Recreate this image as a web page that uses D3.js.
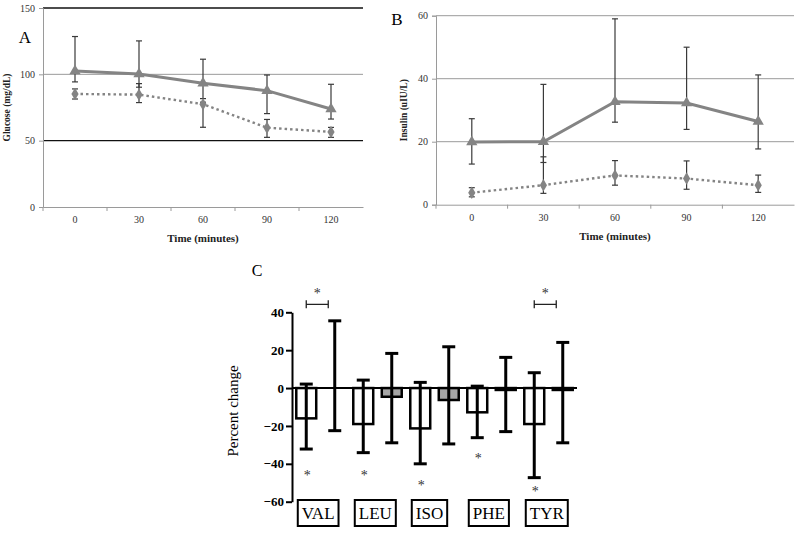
<!DOCTYPE html>
<html>
<head>
<meta charset="utf-8">
<script src="https://cdn.jsdelivr.net/npm/d3@7"></script>
<style>
  body { margin: 0; background: #fff; }
  svg { display: block; font-family: "Liberation Serif", "DejaVu Serif", serif; }
</style>
</head>
<body>
<svg id="chart" width="800" height="536"></svg>
<script>
// time points for panels A and B
const times = [0, 30, 60, 90, 120];

// Panel A: glucose (mg/dL)
const glucoseTri = [102.6, 100.3, 93.3, 87.7, 73.9];
const glucoseTriHi = [128.5, 125.2, 111.4, 99.5, 92.5];
const glucoseTriLo = [94.3, 90.3, 81.7, 70.4, 66.3];
const glucoseDia = [85.2, 84.7, 77.5, 59.8, 56.6];
const glucoseDiaHi = [89, 93, 79, 66, 60];
const glucoseDiaLo = [81.4, 78.7, 60.1, 52.5, 52.5];
const glucoseTicks = [0, 50, 100, 150];

// Panel B: insulin (uIU/L)
const insulinTri = [19.9, 20, 32.7, 32.3, 26.4];
const insulinTriHi = [27.3, 38.2, 59, 50, 41.2];
const insulinTriLo = [12.9, 13.4, 26.2, 23.9, 17.7];
const insulinDia = [3.8, 6.2, 9.3, 8.3, 6.2];
const insulinDiaHi = [5.4, 15.2, 14, 13.9, 9.4];
const insulinDiaLo = [2.5, 3.6, 6.2, 4.9, 3.9];
const insulinTicks = [0, 20, 40, 60];

// Panel C: percent change per amino acid
const aminoAcids = ['VAL', 'LEU', 'ISO', 'PHE', 'TYR'];
const whiteMean = [-16, -19, -21.3, -12.8, -19];
const whiteHi = [2.1, 4.2, 3, 1, 8.1];
const whiteLo = [-32.2, -34.1, -40, -26.2, -47.3];
const grayMean = [0, -4.6, -6.3, -1, -1];
const grayHi = [35.5, 18.3, 21.8, 16.2, 24.1];
const grayLo = [-22.5, -28.9, -29.5, -23, -28.9];
const starLevel = [-44.2, -44.2, -49.5, -35.2, -52.9];
const bracketGroups = ['VAL', 'TYR'];
const bracketLevel = 44.2;
const percentTicks = [-60, -40, -20, 0, 20, 40];

const svg = d3.select('#chart');
const seriesGray = '#848484';
const barGray = '#a6a6a6';

// draws one of the two line panels (A or B)
function linePanel(opts) {
  const g = svg.append('g');
  const x = d3.scaleBand().domain(times).range([opts.left, opts.right]);
  const y = d3.scaleLinear().domain(opts.domain).range([opts.bottom, opts.top]);
  const cx = t => x(t) + x.bandwidth() / 2;

  // horizontal grid lines
  opts.ticks.filter(t => t > 0).forEach(t => {
    g.append('line')
      .attr('x1', opts.left).attr('x2', opts.right)
      .attr('y1', y(t)).attr('y2', y(t))
      .attr('stroke', opts.darkLines.includes(t) ? '#111' : '#9a9a9a')
      .attr('stroke-width', opts.darkLines.includes(t) ? 1.4 : 1);
  });

  // y axis
  const yAxis = g.append('g').attr('transform', `translate(${opts.left},0)`)
    .call(d3.axisLeft(y).tickValues(opts.ticks).tickSize(4).tickPadding(4));
  yAxis.select('.domain').attr('stroke', '#9a9a9a');
  yAxis.selectAll('.tick line').attr('stroke', '#9a9a9a');
  yAxis.selectAll('text').attr('font-size', 10).attr('fill', '#333')
    .attr('font-family', '"Liberation Serif", serif');

  // x axis
  const xAxis = g.append('g').attr('transform', `translate(0,${opts.bottom})`)
    .call(d3.axisBottom(x).tickSizeOuter(0).tickSize(0).tickPadding(9));
  xAxis.select('.domain').attr('stroke', '#9a9a9a');
  xAxis.selectAll('text').attr('font-size', 10).attr('fill', '#333')
    .attr('font-family', '"Liberation Serif", serif');
  // ticks sit between the categories
  times.forEach(t => {
    g.append('line')
      .attr('x1', x(t)).attr('x2', x(t))
      .attr('y1', opts.bottom).attr('y2', opts.bottom + 4)
      .attr('stroke', '#9a9a9a');
  });

  // error bars
  const series = [
    { mean: opts.tri, hi: opts.triHi, lo: opts.triLo },
    { mean: opts.dia, hi: opts.diaHi, lo: opts.diaLo }
  ];
  series.forEach(s => {
    times.forEach((t, i) => {
      g.append('line')
        .attr('x1', cx(t)).attr('x2', cx(t))
        .attr('y1', y(s.hi[i])).attr('y2', y(s.lo[i]))
        .attr('stroke', '#3a3a3a').attr('stroke-width', 1.2);
      [s.hi[i], s.lo[i]].forEach(v => {
        g.append('line')
          .attr('x1', cx(t) - 3).attr('x2', cx(t) + 3)
          .attr('y1', y(v)).attr('y2', y(v))
          .attr('stroke', '#3a3a3a').attr('stroke-width', 1.2);
      });
    });
  });

  const line = d3.line().x((d, i) => cx(times[i])).y(d => y(d));

  g.append('path').datum(opts.dia)
    .attr('d', line).attr('fill', 'none')
    .attr('stroke', seriesGray).attr('stroke-width', 2.4)
    .attr('stroke-dasharray', '2.5,3');
  g.append('path').datum(opts.tri)
    .attr('d', line).attr('fill', 'none')
    .attr('stroke', seriesGray).attr('stroke-width', 3);

  opts.dia.forEach((v, i) => {
    g.append('path')
      .attr('d', d3.symbol(d3.symbolDiamond, 45)())
      .attr('transform', `translate(${cx(times[i])},${y(v)})`)
      .attr('fill', seriesGray);
  });
  opts.tri.forEach((v, i) => {
    g.append('path')
      .attr('d', d3.symbol(d3.symbolTriangle, 55)())
      .attr('transform', `translate(${cx(times[i])},${y(v)})`)
      .attr('fill', seriesGray);
  });

  // titles
  g.append('text')
    .attr('transform', `translate(${opts.yTitleX},${(opts.top + opts.bottom) / 2}) rotate(-90)`)
    .attr('text-anchor', 'middle').attr('font-size', 9.5).attr('font-weight', 'bold')
    .attr('fill', '#222')
    .text(opts.yTitle);
  g.append('text')
    .attr('x', (opts.left + opts.right) / 2).attr('y', opts.bottom + 35)
    .attr('text-anchor', 'middle').attr('font-size', 11).attr('font-weight', 'bold')
    .attr('fill', '#222')
    .text('Time (minutes)');
  g.append('text')
    .attr('x', opts.letterX).attr('y', opts.letterY)
    .attr('text-anchor', 'middle').attr('font-size', 17)
    .text(opts.letter);
}

linePanel({
  left: 43, right: 363, top: 8, bottom: 207,
  domain: [0, 150], ticks: glucoseTicks, darkLines: [150, 50],
  tri: glucoseTri, triHi: glucoseTriHi, triLo: glucoseTriLo,
  dia: glucoseDia, diaHi: glucoseDiaHi, diaLo: glucoseDiaLo,
  yTitle: 'Glucose (mg/dL)', yTitleX: 10,
  letter: 'A', letterX: 25, letterY: 43
});

linePanel({
  left: 436, right: 794, top: 15.7, bottom: 204.7,
  domain: [0, 60], ticks: insulinTicks, darkLines: [],
  tri: insulinTri, triHi: insulinTriHi, triLo: insulinTriLo,
  dia: insulinDia, diaHi: insulinDiaHi, diaLo: insulinDiaLo,
  yTitle: 'Insulin (uIU/L)', yTitleX: 407,
  letter: 'B', letterX: 397, letterY: 25
});

// Panel C: bar chart
const cg = svg.append('g');
const barKeys = aminoAcids.flatMap(a => [a + '-w', a + '-g']);
const xc = d3.scaleBand().domain(barKeys).range([292, 577]).paddingInner(0.3).paddingOuter(0.15);
const yc = d3.scaleLinear().domain([-60, 40]).range([501.7, 312.3]);

const bars = aminoAcids.flatMap((a, i) => [
  { key: a + '-w', mean: whiteMean[i], hi: whiteHi[i], lo: whiteLo[i], fill: '#fff' },
  { key: a + '-g', mean: grayMean[i], hi: grayHi[i], lo: grayLo[i], fill: barGray }
]);

bars.forEach(b => {
  const x0 = xc(b.key), w = xc.bandwidth(), c = x0 + w / 2;
  cg.append('rect')
    .attr('x', x0).attr('width', w)
    .attr('y', yc(Math.max(0, b.mean)))
    .attr('height', Math.abs(yc(b.mean) - yc(0)))
    .attr('fill', b.fill).attr('stroke', '#000').attr('stroke-width', 2.5);
  cg.append('line')
    .attr('x1', c).attr('x2', c)
    .attr('y1', yc(b.hi)).attr('y2', yc(b.lo))
    .attr('stroke', '#000').attr('stroke-width', 3);
  [b.hi, b.lo].forEach(v => {
    cg.append('line')
      .attr('x1', c - 6.5).attr('x2', c + 6.5)
      .attr('y1', yc(v)).attr('y2', yc(v))
      .attr('stroke', '#000').attr('stroke-width', 3);
  });
});

// zero line
cg.append('line')
  .attr('x1', 292).attr('x2', 577)
  .attr('y1', yc(0)).attr('y2', yc(0))
  .attr('stroke', '#000').attr('stroke-width', 2);

// y axis
const cAxis = cg.append('g').attr('transform', 'translate(292,0)')
  .call(d3.axisLeft(yc).tickValues(percentTicks).tickSize(6).tickSizeOuter(0).tickPadding(2));
cAxis.select('.domain').attr('stroke', '#000').attr('stroke-width', 2);
cAxis.selectAll('.tick line').attr('stroke', '#000').attr('stroke-width', 2);
cAxis.selectAll('text').attr('font-size', 13).attr('font-weight', 'bold').attr('fill', '#000')
  .attr('font-family', '"Liberation Serif", serif');

cg.append('text')
  .attr('transform', 'translate(238,411) rotate(-90)')
  .attr('text-anchor', 'middle').attr('font-size', 15)
  .text('Percent change');

cg.append('text').attr('x', 257).attr('y', 276).attr('text-anchor', 'middle')
  .attr('font-size', 16).text('C');

// asterisks under the white bars
aminoAcids.forEach((a, i) => {
  const c = xc(a + '-w') + xc.bandwidth() / 2;
  cg.append('text')
    .attr('x', c + 1).attr('y', yc(starLevel[i]) + 8)
    .attr('text-anchor', 'middle').attr('font-size', 14).attr('fill', '#333')
    .text('*');
});

// significance brackets
bracketGroups.forEach(a => {
  const x1 = xc(a + '-w') + xc.bandwidth() / 2;
  const x2 = x1 + 22;
  const yb = yc(bracketLevel);
  cg.append('path')
    .attr('d', `M${x1},${yb - 4}V${yb + 4}M${x1},${yb}H${x2}M${x2},${yb - 4}V${yb + 4}`)
    .attr('stroke', '#222').attr('stroke-width', 1.3).attr('fill', 'none');
  cg.append('text')
    .attr('x', (x1 + x2) / 2).attr('y', yb - 6)
    .attr('text-anchor', 'middle').attr('font-size', 14).attr('fill', '#333')
    .text('*');
});

// boxed labels
aminoAcids.forEach(a => {
  const x0 = xc(a + '-w');
  const t = cg.append('text')
    .attr('y', 519).attr('font-size', 17).text(a);
  const w = t.node().getComputedTextLength();
  t.attr('x', x0 + 1.5 + 4 + w / 2).attr('text-anchor', 'middle');
  cg.append('rect')
    .attr('x', x0 + 1.5).attr('y', 500)
    .attr('width', w + 8).attr('height', 26)
    .attr('fill', 'none').attr('stroke', '#000').attr('stroke-width', 2);
});
</script>
</body>
</html>
